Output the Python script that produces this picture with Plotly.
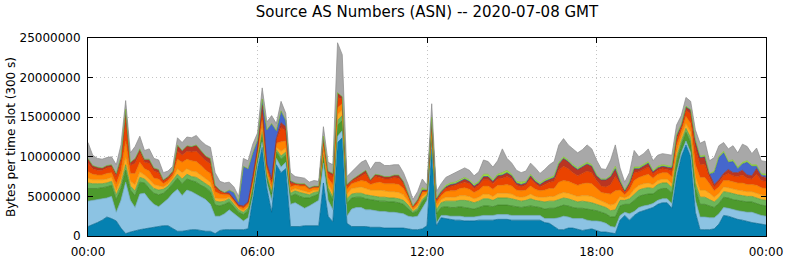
import pandas as pd
import plotly.graph_objects as go

# 10-minute samples over 2020-07-08 (GMT)
slot_times = pd.date_range("2020-07-08 00:00", periods=145, freq="10min")
tick_times = ["2020-07-08 00:00", "2020-07-08 06:00", "2020-07-08 12:00",
              "2020-07-08 18:00", "2020-07-09 00:00"]
tick_labels = ["00:00", "06:00", "12:00", "18:00", "00:00"]
y_ticks = [0, 5000000, 10000000, 15000000, 20000000, 25000000]
y_tick_labels = ["0", "5000000", "10000000", "15000000", "20000000", "25000000"]

# per-AS bytes per 300 s slot, in millions of bytes (bottom layer first)
as_teal = [1.2, 1.4, 1.7, 2.0, 2.4, 2.2, 1.9, 1.0, 0.3, 0.5,
           0.7, 0.8, 0.9, 1.0, 1.1, 1.2, 1.3, 1.3, 0.9, 0.6,
           0.6, 0.7, 0.8, 0.8, 0.7, 0.6, 0.6, 0.3, 0.7, 0.8,
           0.8, 0.8, 0.8, 0.8, 0.9, 4.5, 8.5, 11.2, 6.0, 3.0,
           9.0, 8.0, 8.5, 1.2, 1.2, 1.2, 1.3, 1.3, 1.3, 1.3,
           6.7, 2.5, 1.8, 11.8, 12.4, 1.6, 1.2, 1.2, 1.2, 1.2,
           1.1, 1.1, 1.1, 1.0, 1.0, 1.0, 1.0, 1.0, 0.9, 0.8,
           0.8, 0.9, 1.3, 11.0, 1.3, 2.3, 2.2, 2.1, 2.0, 2.0,
           1.9, 1.9, 1.9, 2.0, 2.0, 2.0, 2.0, 2.1, 2.1, 2.1,
           2.0, 2.0, 2.0, 2.0, 2.0, 2.0, 2.0, 1.7, 1.6, 1.2,
           0.8, 0.8, 1.0, 1.0, 0.8, 0.7, 0.8, 0.9, 0.7, 0.5,
           0.5, 0.4, 0.3, 2.0, 2.6, 2.0, 2.6, 3.0, 3.2, 3.3,
           3.6, 4.0, 4.2, 4.2, 3.5, 7.4, 10.0, 11.5, 10.0, 3.0,
           0.8, 0.8, 0.8, 0.9, 1.5, 2.6, 2.5, 2.3, 2.1, 2.0,
           1.8, 1.7, 1.6, 1.5, 1.4]
as_lightblue = [3.2, 3.1, 2.9, 2.7, 2.4, 2.8, 1.1, 3.5, 6.5, 4.0,
                2.9, 4.5, 4.5, 3.6, 2.9, 2.5, 2.9, 3.4, 4.5, 5.3,
                4.5, 5.1, 4.8, 4.5, 4.2, 4.0, 3.4, 2.2, 1.8, 2.0,
                2.5, 2.0, 1.5, 1.1, 1.4, 0.5, 0.5, 0.7, 0.7, 1.5,
                0.8, 0.7, 0.8, 2.8, 3.0, 2.6, 2.2, 2.5, 2.9, 3.2,
                2.5, 2.0, 1.5, 0.8, 0.9, 0.9, 2.2, 2.4, 2.4, 2.1,
                2.2, 2.1, 2.0, 2.1, 2.0, 2.0, 1.9, 1.8, 1.6, 1.6,
                1.7, 2.6, 3.2, 0.8, 0.3, 0.3, 0.4, 0.4, 0.5, 0.5,
                0.5, 0.5, 0.5, 0.5, 0.6, 0.6, 0.6, 0.6, 0.6, 0.6,
                0.6, 0.6, 0.6, 0.6, 0.6, 0.6, 0.6, 0.5, 0.6, 1.0,
                1.5, 1.7, 1.4, 1.2, 1.4, 1.5, 1.2, 1.0, 1.2, 1.3,
                1.1, 0.8, 0.8, 0.6, 0.4, 0.8, 0.5, 0.6, 0.6, 0.6,
                0.5, 0.5, 0.5, 0.5, 0.6, 0.6, 0.5, 0.5, 0.5, 1.5,
                1.6, 1.6, 1.5, 1.4, 1.3, 1.0, 1.0, 1.0, 1.1, 1.1,
                1.2, 1.3, 1.2, 1.1, 1.1]
as_darkgreen = [1.6, 1.5, 1.4, 1.4, 1.4, 1.4, 1.6, 1.5, 1.5, 1.3,
                1.5, 1.5, 1.3, 1.4, 1.4, 1.5, 1.2, 1.2, 1.2, 1.4,
                1.5, 1.4, 1.4, 1.5, 1.5, 1.5, 1.6, 1.4, 1.3, 1.2,
                1.0, 0.9, 0.7, 0.8, 0.9, 0.9, 0.8, 0.9, 0.7, 0.8,
                0.8, 1.0, 0.9, 1.0, 1.1, 1.2, 1.3, 1.0, 0.9, 0.8,
                0.8, 1.2, 1.2, 1.4, 1.3, 1.6, 1.4, 1.3, 1.3, 1.4,
                1.3, 1.3, 1.3, 1.3, 1.3, 1.3, 1.3, 1.2, 1.0, 0.5,
                0.7, 0.8, 0.5, 0.7, 1.2, 1.0, 1.1, 1.1, 1.1, 1.2,
                1.2, 1.1, 1.0, 1.1, 1.2, 1.2, 1.1, 1.2, 1.2, 1.2,
                1.2, 1.1, 1.0, 1.1, 1.2, 1.1, 1.0, 1.2, 1.3, 1.3,
                1.4, 1.4, 1.4, 1.4, 1.3, 1.3, 1.4, 1.4, 1.3, 1.2,
                1.2, 1.2, 1.3, 1.2, 1.0, 1.2, 1.4, 1.4, 1.4, 1.4,
                1.2, 1.3, 1.3, 1.3, 1.3, 1.3, 1.0, 1.1, 1.3, 1.5,
                1.6, 1.6, 1.5, 1.3, 1.3, 1.3, 1.3, 1.3, 1.3, 1.3,
                1.3, 1.3, 1.3, 1.3, 1.3]
as_green = [0.7, 0.6, 0.6, 0.5, 0.5, 0.5, 0.6, 0.6, 0.7, 0.5,
            0.6, 0.6, 0.5, 0.6, 0.6, 0.6, 0.5, 0.4, 0.4, 0.5,
            0.6, 0.6, 0.5, 0.6, 0.6, 0.5, 0.6, 0.5, 0.5, 0.4,
            0.4, 0.3, 0.3, 0.3, 0.3, 0.4, 0.3, 0.4, 0.3, 0.3,
            0.3, 0.4, 0.4, 0.4, 0.4, 0.5, 0.5, 0.4, 0.4, 0.3,
            0.3, 0.4, 0.4, 0.6, 0.6, 0.6, 0.5, 0.5, 0.5, 0.5,
            0.5, 0.5, 0.5, 0.5, 0.5, 0.5, 0.5, 0.5, 0.4, 0.2,
            0.3, 0.3, 0.2, 0.3, 0.5, 0.6, 0.7, 0.8, 0.8, 0.8,
            0.9, 0.9, 0.8, 0.8, 0.9, 0.9, 0.8, 0.9, 0.9, 0.9,
            0.9, 0.8, 0.8, 0.8, 0.9, 0.8, 0.8, 0.9, 0.9, 0.9,
            0.9, 0.9, 0.9, 0.9, 0.8, 0.9, 0.9, 0.9, 0.8, 0.8,
            0.8, 0.8, 0.9, 0.7, 0.5, 0.7, 0.8, 0.8, 0.8, 0.8,
            0.7, 0.7, 0.7, 0.7, 0.7, 0.6, 0.5, 0.5, 0.6, 0.7,
            0.9, 0.9, 0.8, 0.7, 0.7, 0.7, 0.7, 0.7, 0.7, 0.7,
            0.7, 0.7, 0.7, 0.7, 0.7]
as_amber = [0.6, 0.5, 0.5, 0.5, 0.5, 0.5, 0.6, 0.6, 1.0, 0.6,
            0.8, 0.7, 0.5, 0.6, 0.5, 0.5, 0.3, 0.3, 0.3, 0.7,
            0.8, 0.7, 0.7, 0.7, 0.7, 0.6, 0.6, 0.4, 0.4, 0.3,
            0.2, 0.2, 0.2, 0.2, 0.2, 0.3, 0.3, 0.6, 0.3, 0.3,
            0.3, 0.6, 0.5, 0.3, 0.3, 0.3, 0.4, 0.3, 0.3, 0.2,
            0.4, 0.5, 0.6, 0.7, 0.7, 0.6, 0.7, 0.7, 0.8, 0.8,
            0.7, 0.8, 0.9, 0.8, 0.8, 0.8, 0.8, 0.7, 0.5, 0.2,
            0.3, 0.4, 0.2, 0.4, 0.4, 0.4, 0.5, 0.5, 0.5, 0.6,
            0.6, 0.6, 0.5, 0.5, 0.6, 0.6, 0.5, 0.6, 0.6, 0.6,
            0.6, 0.5, 0.5, 0.5, 0.6, 0.5, 0.5, 0.6, 0.6, 0.6,
            0.7, 0.7, 0.7, 0.7, 0.7, 0.7, 0.8, 0.8, 0.7, 0.6,
            0.6, 0.7, 0.8, 0.5, 0.3, 0.4, 0.6, 0.6, 0.6, 0.6,
            0.5, 0.5, 0.5, 0.5, 0.5, 0.6, 0.5, 0.6, 0.7, 0.8,
            0.9, 0.9, 0.8, 0.6, 0.6, 0.6, 0.6, 0.6, 0.6, 0.6,
            0.6, 0.6, 0.6, 0.6, 0.6]
as_orange = [0.8, 0.7, 0.6, 0.6, 0.7, 0.6, 0.8, 1.0, 2.0, 1.0,
             1.4, 1.2, 0.8, 1.0, 0.8, 0.9, 0.4, 0.4, 0.4, 1.2,
             1.3, 1.2, 1.3, 1.3, 1.2, 1.1, 1.1, 0.8, 0.6, 0.5,
             0.3, 0.3, 0.2, 0.3, 0.3, 0.4, 0.4, 0.9, 0.5, 0.5,
             0.5, 1.2, 0.9, 0.5, 0.4, 0.5, 0.6, 0.4, 0.3, 0.3,
             0.6, 0.7, 1.0, 0.9, 0.8, 0.6, 0.6, 0.7, 0.8, 0.9,
             0.7, 0.9, 1.0, 0.9, 1.0, 1.0, 1.0, 0.8, 0.5, 0.2,
             0.3, 0.5, 0.2, 0.5, 0.5, 0.5, 0.7, 0.8, 0.8, 0.9,
             1.0, 0.9, 0.8, 0.9, 1.0, 1.0, 0.9, 1.0, 1.0, 1.1,
             1.0, 0.8, 0.8, 0.8, 1.0, 0.9, 0.8, 0.9, 1.0, 1.0,
             1.5, 1.5, 1.5, 1.5, 1.4, 1.5, 1.6, 1.6, 1.3, 1.1,
             1.2, 1.4, 1.6, 0.8, 0.4, 0.7, 1.1, 1.0, 1.0, 1.1,
             0.8, 0.8, 0.8, 0.8, 0.9, 0.9, 0.7, 0.9, 1.1, 1.5,
             1.6, 1.6, 1.2, 0.8, 0.8, 0.8, 0.9, 0.9, 0.9, 1.0,
             0.9, 0.9, 1.0, 0.9, 0.9]
as_red = [1.1, 0.7, 0.6, 0.6, 0.7, 0.7, 0.9, 1.3, 3.0, 1.0,
          1.3, 1.2, 0.8, 1.0, 0.9, 0.8, 0.3, 0.3, 0.3, 1.0,
          0.9, 1.0, 1.1, 1.3, 1.2, 1.2, 1.2, 0.5, 0.3, 0.2,
          0.1, 0.1, 0.1, 0.2, 0.2, 0.3, 0.2, 1.2, 0.4, 0.5,
          0.4, 1.8, 1.3, 0.4, 0.2, 0.2, 0.2, 0.1, 0.1, 0.1,
          0.9, 0.6, 1.0, 1.3, 0.6, 0.4, 0.3, 0.4, 0.6, 1.0,
          0.4, 0.8, 0.6, 0.6, 0.6, 0.8, 0.8, 0.6, 0.3, 0.2,
          0.3, 0.2, 0.1, 0.7, 0.3, 0.3, 0.4, 0.5, 0.6, 0.6,
          0.7, 0.7, 0.5, 0.6, 0.8, 0.8, 0.7, 0.8, 0.9, 1.0,
          0.9, 0.6, 0.5, 0.6, 0.9, 0.7, 0.5, 0.7, 0.8, 0.9,
          1.5, 1.8, 1.6, 1.3, 1.2, 1.3, 1.5, 1.4, 1.0, 0.8,
          0.8, 1.2, 1.8, 0.8, 0.3, 0.6, 1.0, 0.7, 0.8, 0.9,
          0.5, 0.5, 0.5, 0.4, 0.7, 0.8, 0.5, 0.8, 1.2, 2.0,
          1.6, 1.7, 0.8, 0.5, 0.6, 0.6, 0.9, 0.8, 0.8, 1.0,
          0.8, 0.7, 1.4, 0.9, 0.9]
as_darkred = [0.6, 0.4, 0.4, 0.3, 0.3, 0.3, 0.4, 0.5, 1.0, 0.4,
              0.6, 0.5, 0.4, 0.5, 0.4, 0.4, 0.2, 0.2, 0.2, 0.8,
              0.6, 0.7, 0.7, 0.8, 0.7, 0.6, 0.7, 0.3, 0.2, 0.1,
              0.1, 0.1, 0.1, 0.1, 0.1, 0.2, 0.1, 0.6, 0.2, 0.3,
              0.2, 0.6, 0.5, 0.2, 0.1, 0.1, 0.1, 0.1, 0.1, 0.1,
              0.4, 0.3, 0.4, 0.6, 0.3, 0.2, 0.2, 0.3, 0.3, 0.4,
              0.2, 0.3, 0.3, 0.3, 0.3, 0.3, 0.4, 0.3, 0.2, 0.1,
              0.2, 0.1, 0.1, 0.4, 0.2, 0.2, 0.2, 0.3, 0.3, 0.3,
              0.4, 0.3, 0.3, 0.3, 0.4, 0.4, 0.3, 0.4, 0.4, 0.5,
              0.4, 0.3, 0.3, 0.3, 0.4, 0.3, 0.3, 0.4, 0.4, 0.5,
              0.8, 1.0, 0.9, 0.8, 0.8, 0.8, 0.9, 0.8, 0.6, 0.8,
              0.9, 1.0, 1.0, 0.3, 0.2, 0.3, 0.5, 0.4, 0.4, 0.5,
              0.3, 0.3, 0.3, 0.3, 0.4, 0.4, 0.3, 0.4, 0.5, 1.0,
              0.9, 0.9, 0.4, 0.3, 0.3, 0.3, 0.5, 0.4, 0.5, 0.6,
              0.4, 0.4, 0.7, 0.5, 0.5]
as_blue = [0, 0, 0, 0, 0, 0, 0, 0, 0, 0,
           0, 0, 0, 0, 0, 0, 0, 0, 0, 0,
           0, 0, 0, 0, 0, 0, 0, 0, 0, 0,
           0.4, 0.8, 0.4, 5.0, 4.2, 3.0, 1.0, 0.8, 4.3, 7.0,
           1.0, 1.5, 0.8, 0.2, 0, 0, 0, 0, 0, 0,
           0, 0, 0, 0, 0, 0, 0, 0, 0, 0,
           0, 0, 0, 0, 0, 0, 0, 0, 0, 0,
           0, 0, 0, 0, 0, 0, 0, 0, 0, 0,
           0, 0, 0, 0, 0, 0, 0, 0, 0, 0,
           0, 0, 0, 0, 0, 0, 0, 0, 0, 0,
           0, 0, 0, 0, 0, 0, 0, 0, 0, 0,
           0, 0, 0, 0, 0, 0, 0, 0, 0, 0,
           0, 0, 0, 0, 0, 0, 0, 0, 0, 0,
           0, 0, 0, 1.5, 2.8, 2.6, 0.9, 1.4, 0.5, 0.8,
           1.6, 1.2, 0.3, 0.2, 0.2]
as_lime = [0, 0, 0, 0, 0, 0, 0, 0, 0, 0,
           0, 0, 0, 0, 0, 0, 0, 0, 0, 0,
           0, 0, 0, 0, 0, 0, 0, 0, 0, 0,
           0, 0, 0, 0, 0, 0, 0, 0, 0, 0,
           0, 0, 0, 0, 0, 0, 0, 0, 0, 0,
           0, 0, 0, 0, 0, 0, 0, 0, 0, 0,
           0, 0, 0, 0, 0, 0, 0, 0, 0, 0,
           0, 0.3, 0, 0.2, 0.1, 0.1, 0.2, 0.2, 0.2, 0.2,
           0.2, 0.2, 0.2, 0.2, 0.3, 0.3, 0.2, 0.2, 0.3, 0.3,
           0.2, 0.2, 0.3, 0.2, 0.2, 0.2, 0.2, 0.2, 0.2, 0.2,
           0.2, 0.2, 0.2, 0.2, 0.2, 0.2, 0.2, 0.2, 0.2, 0.1,
           0.1, 0.2, 0.3, 0.2, 0.1, 0.2, 0.2, 0.2, 0.2, 0.2,
           0.2, 0.2, 0.2, 0.2, 0.2, 0.2, 0.1, 0.1, 0.1, 0.2,
           0.2, 0.2, 0.1, 0.2, 0.2, 0.2, 0.2, 0.2, 0.2, 0.2,
           0.2, 0.2, 0.2, 0.2, 0.2]
as_other = [2.0, 1.3, 1.1, 1.1, 1.0, 1.0, 1.1, 1.5, 1.1, 1.2,
            1.5, 1.6, 1.1, 1.3, 1.2, 1.2, 0.9, 0.7, 0.6, 0.9,
            1.0, 1.1, 1.1, 1.2, 1.2, 1.4, 1.4, 1.6, 1.1, 1.2,
            1.0, 0.7, 0.7, 1.0, 1.0, 1.1, 0.9, 1.4, 1.0, 1.0,
            0.9, 1.2, 0.9, 1.0, 0.8, 0.8, 0.7, 0.7, 0.7, 0.6,
            1.2, 1.1, 1.1, 6.3, 5.3, 1.0, 1.0, 1.2, 1.4, 1.3,
            1.3, 1.5, 1.6, 1.4, 1.4, 1.3, 1.3, 1.1, 1.1, 0.8,
            1.0, 1.1, 0.6, 1.7, 0.8, 0.9, 1.0, 1.0, 1.2, 1.2,
            1.2, 1.2, 1.1, 1.2, 1.8, 1.6, 1.6, 1.7, 3.0, 1.5,
            1.4, 1.4, 1.2, 1.3, 1.4, 1.5, 1.2, 1.3, 1.6, 1.8,
            2.2, 2.3, 1.9, 2.0, 1.9, 2.0, 2.2, 2.0, 1.8, 1.3,
            1.2, 1.9, 2.7, 1.5, 1.0, 1.1, 2.1, 1.3, 1.4, 1.6,
            1.2, 1.4, 1.4, 1.4, 1.4, 1.2, 1.1, 1.1, 1.0, 1.2,
            1.6, 1.8, 1.6, 1.7, 1.3, 1.1, 1.5, 1.8, 1.8, 2.3,
            1.8, 1.4, 2.1, 1.6, 1.6]

layers = [
    ("AS 1", as_teal, "#0581b1", "#03668d"),
    ("AS 2", as_lightblue, "#8cc3e3", "#6fa6c6"),
    ("AS 3", as_darkgreen, "#4d9a2d", "#3b7e22"),
    ("AS 4", as_green, "#6db659", "#559c43"),
    ("AS 5", as_amber, "#ffad1f", "#e09214"),
    ("AS 6", as_orange, "#ff8400", "#de6f00"),
    ("AS 7", as_red, "#ea4300", "#c63800"),
    ("AS 8", as_darkred, "#b93522", "#962a1a"),
    ("AS 9", as_blue, "#4567cc", "#3552ab"),
    ("AS 10", as_lime, "#99dd3a", "#7fbf2c"),
    ("Other", as_other, "#a8a8a8", "#8a8a8a"),
]

fig = go.Figure()
for name, vals, fill, edge in layers:
    assert len(vals) == len(slot_times), (name, len(vals))
    fig.add_trace(go.Scatter(
        x=slot_times, y=[v * 1e6 for v in vals], name=name,
        mode="lines", stackgroup="asn",
        line=dict(color=edge, width=0.7), fillcolor=fill,
        hoverinfo="skip", showlegend=False,
    ))

font = "DejaVu Sans, Verdana, sans-serif"
fig.update_layout(
    width=786, height=261,
    margin=dict(l=88, r=20, t=38, b=25, autoexpand=False),
    paper_bgcolor="white", plot_bgcolor="white",
    font=dict(family=font, size=12, color="black"),
    title=dict(text="Source AS Numbers (ASN) -- 2020-07-08 GMT",
               x=427 / 786, xanchor="center", y=1 - 12 / 261, yanchor="middle",
               font=dict(family=font, size=15, color="black")),
    showlegend=False,
)
fig.update_xaxes(
    range=[tick_times[0], tick_times[-1]],
    tickvals=tick_times, ticktext=tick_labels,
    showline=True, linecolor="black", linewidth=1, mirror="ticks",
    ticks="inside", ticklen=5, tickcolor="black",
    showgrid=True, gridcolor="#c4c4c4", griddash="1px,3px", gridwidth=1,
    tickfont=dict(size=12), zeroline=False, automargin=False,
    ticklabelstandoff=5,
)
fig.update_yaxes(
    range=[0, 25000000],
    tickvals=y_ticks, ticktext=y_tick_labels,
    showline=True, linecolor="black", linewidth=1, mirror="ticks",
    ticks="inside", ticklen=5, tickcolor="black",
    showgrid=True, gridcolor="#c4c4c4", griddash="1px,3px", gridwidth=1,
    tickfont=dict(size=12), zeroline=False, ticklabelstandoff=4,
    automargin=False,
    title=dict(text="Bytes per time slot (300 s)", font=dict(size=12), standoff=1),
)
fig.write_html("out.html")
